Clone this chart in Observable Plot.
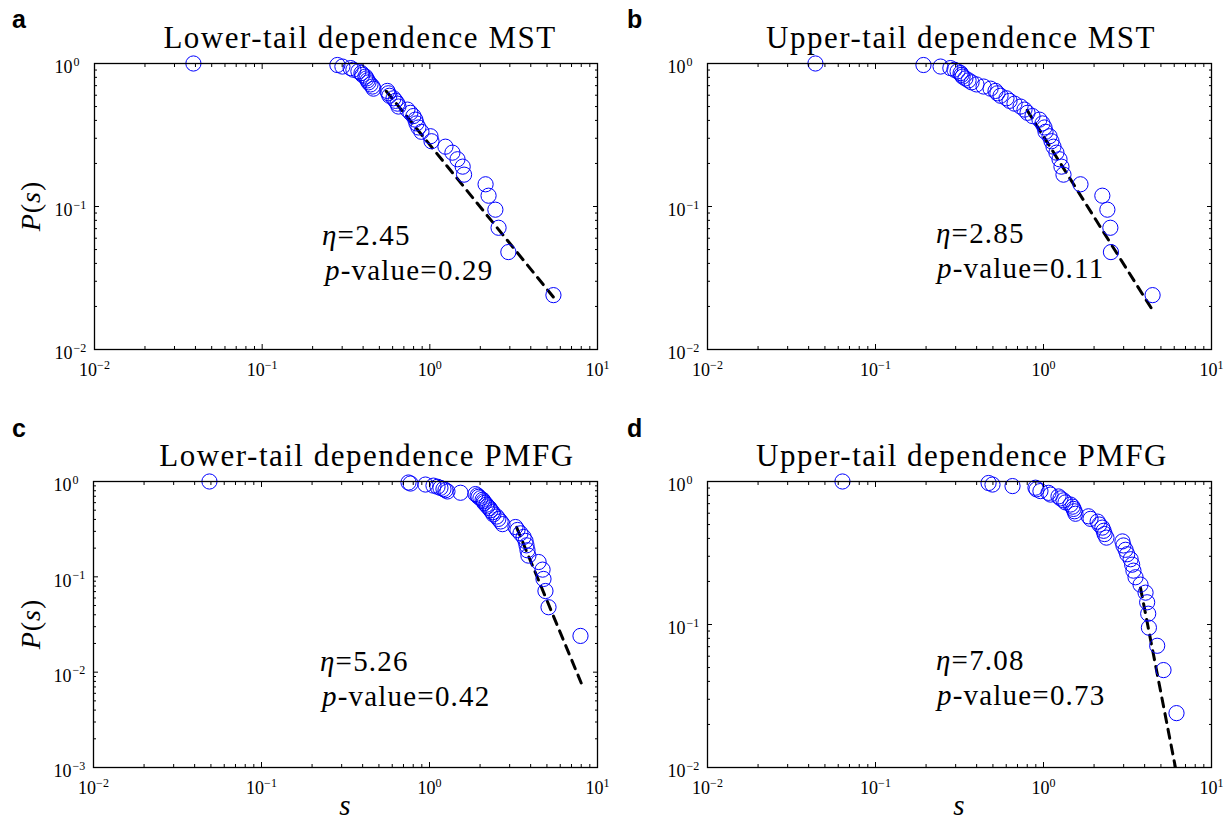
<!DOCTYPE html>
<html><head><meta charset="utf-8">
<script src="https://cdn.jsdelivr.net/npm/d3@7"></script>
<script src="https://cdn.jsdelivr.net/npm/@observablehq/plot@0.6"></script>
<style>
html,body{margin:0;padding:0;background:#fff;}
#fig{position:relative;width:1228px;height:825px;overflow:hidden;background:#fff;}
#fig > svg, #fig > figure{position:absolute;margin:0;}
</style></head><body><div id="fig"></div><script>
// ---------- data ----------
const panelTitles = ["Lower-tail dependence MST", "Upper-tail dependence MST", "Lower-tail dependence PMFG", "Upper-tail dependence PMFG"];
const panelLetters = ["a", "b", "c", "d"];
const etaValues = ["2.45", "2.85", "5.26", "7.08"];
const pValueTexts = ["0.29", "0.11", "0.42", "0.73"];

// P(s) levels (complementary cumulative), shared by all panels
const pLevels = [1.000, 0.976, 0.952, 0.929, 0.905, 0.881, 0.857, 0.833, 0.810, 0.786, 0.762, 0.738, 0.714, 0.690,
  0.667, 0.643, 0.619, 0.595, 0.571, 0.548, 0.524, 0.500, 0.476, 0.452, 0.429, 0.405, 0.381, 0.357,
  0.333, 0.310, 0.286, 0.262, 0.238, 0.214, 0.190, 0.167, 0.143, 0.119, 0.095, 0.071, 0.048, 0.024];

const sLowerMST = [0.0389, 0.281, 0.301, 0.337, 0.350, 0.375, 0.391, 0.396, 0.413, 0.419, 0.425, 0.431, 0.443, 0.455,
  0.461, 0.558, 0.566, 0.574, 0.607, 0.624, 0.641, 0.650, 0.735, 0.766, 0.798, 0.820, 0.832, 0.855,
  0.891, 1.009, 1.023, 1.239, 1.364, 1.462, 1.570, 1.600, 2.15, 2.24, 2.46, 2.57, 2.94, 5.46];
const sUpperMST = [0.0439, 0.193, 0.244, 0.279, 0.295, 0.308, 0.321, 0.325, 0.330, 0.343, 0.358, 0.373, 0.399, 0.440,
  0.484, 0.518, 0.532, 0.555, 0.602, 0.628, 0.672, 0.730, 0.771, 0.803, 0.860, 0.946, 0.986, 1.014,
  1.028, 1.086, 1.116, 1.147, 1.194, 1.245, 1.279, 1.315, 1.660, 2.24, 2.40, 2.50, 2.52, 4.46];
const sLowerPMFG = [0.0490, 0.750, 0.771, 0.946, 1.056, 1.116, 1.162, 1.211, 1.245, 1.279, 1.530, 1.878, 1.931, 1.958,
  2.01, 2.07, 2.10, 2.12, 2.18, 2.21, 2.28, 2.31, 2.37, 2.40, 2.51, 2.57, 2.65, 2.72,
  3.25, 3.34, 3.48, 3.63, 3.73, 3.78, 3.83, 3.88, 4.46, 4.71, 4.77, 4.90, 5.11, 7.92];
const sUpperPMFG = [0.0636, 0.471, 0.497, 0.654, 0.896, 0.909, 0.959, 1.071, 1.101, 1.228, 1.262, 1.315, 1.352, 1.448,
  1.489, 1.510, 1.530, 1.55, 1.853, 1.905, 2.10, 2.15, 2.24, 2.28, 2.31, 2.37, 2.95, 2.99,
  3.08, 3.15, 3.30, 3.37, 3.43, 3.53, 3.78, 4.05, 4.14, 4.20, 4.24, 4.75, 5.18, 6.19];

// fitted power-law (dashed) end points
const fitLowerMST_s = [0.55, 5.5],  fitLowerMST_p = [0.64, 0.023];
const fitUpperMST_s = [0.80, 4.5],  fitUpperMST_p = [0.47, 0.0185];
const fitLowerPMFG_s = [3.30, 8.0], fitLowerPMFG_p = [0.33, 0.0077];
const fitUpperPMFG_s = [3.78, 6.1], fitUpperPMFG_p = [0.18, 0.0100];

// axis ticks
const xMajor = [0.01, 0.1, 1, 10];
const xMinor = [0.02, 0.03, 0.04, 0.05, 0.06, 0.07, 0.08, 0.09, 0.2, 0.3, 0.4, 0.5, 0.6, 0.7, 0.8, 0.9, 2, 3, 4, 5, 6, 7, 8, 9];
const yMajor2 = [0.01, 0.1, 1];
const yMinor2 = [0.02, 0.03, 0.04, 0.05, 0.06, 0.07, 0.08, 0.09, 0.2, 0.3, 0.4, 0.5, 0.6, 0.7, 0.8, 0.9];
const yMajor3 = [0.001, 0.01, 0.1, 1];
const yMinor3 = [0.002, 0.003, 0.004, 0.005, 0.006, 0.007, 0.008, 0.009, 0.02, 0.03, 0.04, 0.05, 0.06, 0.07, 0.08, 0.09, 0.2, 0.3, 0.4, 0.5, 0.6, 0.7, 0.8, 0.9];

// ---------- build ----------
const SERIF = "'Liberation Serif', 'Times New Roman', serif";
const SANS = "'Liberation Sans', Arial, sans-serif";
const NS = "http://www.w3.org/2000/svg";

const pts = (s) => s.map((v, i) => ({s: v, p: pLevels[i]}));
const fit = (s, p) => s.map((v, i) => ({s: v, p: p[i]}));
const expLabel = (d) => "10^" + String(Math.round(Math.log10(d))).replace("-", "\u2212");
const blank = () => "";

const panels = [
  {data: pts(sLowerMST), line: fit(fitLowerMST_s, fitLowerMST_p), yDomain: [0.01, 1], yMajor: yMajor2, yMinor: yMinor2},
  {data: pts(sUpperMST), line: fit(fitUpperMST_s, fitUpperMST_p), yDomain: [0.01, 1], yMajor: yMajor2, yMinor: yMinor2},
  {data: pts(sLowerPMFG), line: fit(fitLowerPMFG_s, fitLowerPMFG_p), yDomain: [0.001, 1], yMajor: yMajor3, yMinor: yMinor3},
  {data: pts(sUpperPMFG), line: fit(fitUpperPMFG_s, fitUpperPMFG_p), yDomain: [0.01, 1], yMajor: yMajor2, yMinor: yMinor2}
];
const layout = [
  {left: 0,   top: 0,   mt: 63, mb: 63, ml: 94, mr: 17},
  {left: 614, top: 0,   mt: 63, mb: 63, ml: 93, mr: 17},
  {left: 0,   top: 412, mt: 69, mb: 57, ml: 93, mr: 17},
  {left: 614, top: 412, mt: 69, mb: 57, ml: 93, mr: 17}
];

const fig = document.getElementById("fig");

function supify(svg) {
  svg.querySelectorAll('g[aria-label="x-axis tick label"] text, g[aria-label="y-axis tick label"] text').forEach((t) => {
    const str = t.textContent;
    if (!str.startsWith("10^")) return;
    const isY = t.parentNode.getAttribute("aria-label").startsWith("y");
    t.textContent = "10";
    const ts = document.createElementNS(NS, "tspan");
    ts.textContent = str.slice(3);
    ts.setAttribute("font-size", "12");
    if (isY) {
      ts.setAttribute("x", t.getAttribute("x") || "0");
      ts.setAttribute("dx", "1");
      ts.setAttribute("text-anchor", "start");
    }
    ts.setAttribute("dy", "-7.5");
    t.appendChild(ts);
  });
}

panels.forEach((P, k) => {
  const L = layout[k];
  const tickStyle = {stroke: "#000", strokeWidth: 1, label: null, tickFormat: blank};
  const svg = Plot.plot({
    width: 614, height: 412,
    marginTop: L.mt, marginBottom: L.mb, marginLeft: L.ml, marginRight: L.mr,
    x: {type: "log", domain: [0.01, 10]},
    y: {type: "log", domain: P.yDomain},
    style: {fontFamily: SERIF, fontSize: "18px", color: "#000", background: "transparent", overflow: "visible"},
    marks: [
      Plot.line(P.line, {x: "s", y: "p", stroke: "#000", strokeWidth: 3, strokeDasharray: "9,7", clip: true}),
      Plot.dot(P.data, {x: "s", y: "p", r: 7.6, stroke: "#0000ff", fill: "none", strokeWidth: 1}),
      Plot.axisX(xMajor, {anchor: "bottom", tickSize: -5, ...tickStyle}),
      Plot.axisX(xMinor, {anchor: "bottom", tickSize: -3, ...tickStyle}),
      Plot.axisX(xMajor, {anchor: "top", tickSize: -5, ...tickStyle}),
      Plot.axisX(xMinor, {anchor: "top", tickSize: -3, ...tickStyle}),
      Plot.axisY(P.yMajor, {anchor: "left", tickSize: -5, ...tickStyle}),
      Plot.axisY(P.yMinor, {anchor: "left", tickSize: -3, ...tickStyle}),
      Plot.axisY(P.yMajor, {anchor: "right", tickSize: -5, ...tickStyle}),
      Plot.axisY(P.yMinor, {anchor: "right", tickSize: -3, ...tickStyle}),
      Plot.axisX(xMajor, {anchor: "bottom", tickSize: 0, tickPadding: 14, tickFormat: expLabel, label: null}),
      Plot.axisY(P.yMajor, {anchor: "left", tickSize: 0, tickPadding: 22, tickFormat: expLabel, label: null, dy: 4}),
      Plot.frame({stroke: "#000", strokeWidth: 1.3})
    ]
  });
  svg.style.left = L.left + "px";
  svg.style.top = L.top + "px";
  fig.appendChild(svg);
  supify(svg);
});

// ---------- overlay texts ----------
const ov = d3.select(fig).append("svg")
  .attr("width", 1228).attr("height", 825)
  .style("left", "0px").style("top", "0px").style("pointer-events", "none")
  .attr("font-family", SERIF).attr("fill", "#000");

const titlePos = [[360, 48], [961, 48], [367, 466], [962, 466]];
const letterPos = [[12, 28], [627, 28], [12, 437], [627, 437]];
const etaPos = [[322, 245], [936, 243], [320, 671], [936, 670]];
const pvalPos = [[325, 280], [937, 278], [322, 706], [937, 705]];

panelTitles.forEach((t, k) => {
  ov.append("text").attr("x", titlePos[k][0]).attr("y", titlePos[k][1])
    .attr("font-family", SERIF)
    .attr("text-anchor", "middle").attr("font-size", 31).attr("letter-spacing", 1.5).text(t);
  ov.append("text").attr("x", letterPos[k][0]).attr("y", letterPos[k][1])
    .attr("font-family", SANS).attr("font-weight", "bold").attr("font-size", 25).text(panelLetters[k]);
  const e = ov.append("text").attr("x", etaPos[k][0]).attr("y", etaPos[k][1])
    .attr("font-family", SERIF).attr("font-size", 29).attr("letter-spacing", 1.2);
  e.append("tspan").attr("font-style", "italic").text("\u03B7");
  e.append("tspan").text("=" + etaValues[k]);
  const pv = ov.append("text").attr("x", pvalPos[k][0]).attr("y", pvalPos[k][1])
    .attr("font-family", SERIF).attr("font-size", 29).attr("letter-spacing", 1.2);
  pv.append("tspan").attr("font-style", "italic").text("p");
  pv.append("tspan").text("-value=" + pValueTexts[k]);
});

[[30, 206], [30, 624]].forEach(([x, y]) => {
  const t = ov.append("text").attr("transform", `translate(${x},${y}) rotate(-90)`)
    .attr("font-family", SERIF)
    .attr("text-anchor", "middle").attr("dy", "0.35em").attr("font-size", 28).attr("letter-spacing", 1);
  t.append("tspan").attr("font-style", "italic").text("P");
  t.append("tspan").text("(");
  t.append("tspan").attr("font-style", "italic").text("s");
  t.append("tspan").text(")");
});
[[345, 815], [959, 815]].forEach(([x, y]) => {
  ov.append("text").attr("x", x).attr("y", y).attr("text-anchor", "middle")
    .attr("font-family", SERIF)
    .attr("font-size", 29).attr("font-style", "italic").text("s");
});
</script></body></html>
